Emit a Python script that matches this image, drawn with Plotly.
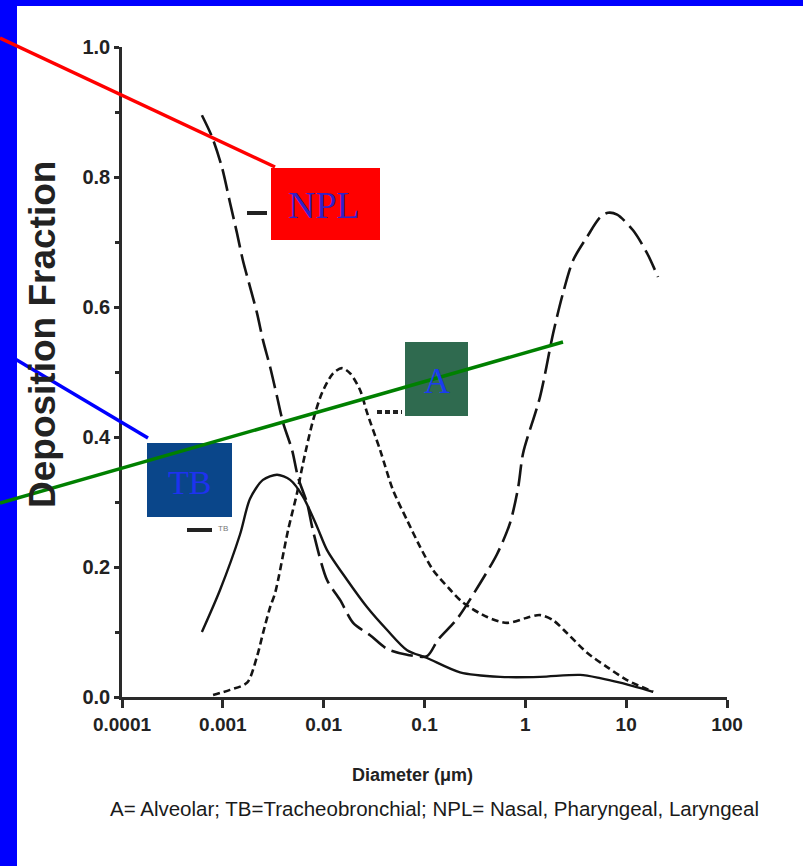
import plotly.graph_objects as go

# ---- data ----
npl_diam = [0.00062, 0.00078, 0.00098, 0.00118, 0.00138, 0.00158, 0.00186, 0.00218, 0.0025,
            0.00294, 0.00345, 0.00396, 0.00486, 0.00557, 0.00685, 0.00786, 0.0108, 0.0146,
            0.0196, 0.0289, 0.0426, 0.0672, 0.106, 0.136, 0.21, 0.356, 0.525, 0.706, 0.85,
            0.95, 1.40, 1.89, 2.37, 2.98, 4.10, 5.52, 6.63, 8.14, 11.7, 16.1, 20.7]
npl_frac = [0.895, 0.862, 0.815, 0.760, 0.714, 0.672, 0.631, 0.591, 0.549,
            0.508, 0.462, 0.422, 0.380, 0.338, 0.298, 0.255, 0.180, 0.149,
            0.114, 0.095, 0.074, 0.065, 0.063, 0.088, 0.120, 0.175, 0.220, 0.268, 0.323,
            0.375, 0.462, 0.560, 0.622, 0.672, 0.708, 0.738, 0.745, 0.742, 0.718, 0.683, 0.646]

tb_diam = [0.00062, 0.00094, 0.00148, 0.00186, 0.0025, 0.00345, 0.00465, 0.00625, 0.0086,
           0.0108, 0.0171, 0.027, 0.0426, 0.0672, 0.106, 0.225, 0.562, 1.40, 3.50, 5.52,
           8.71, 18.5]
tb_frac = [0.100, 0.165, 0.250, 0.305, 0.334, 0.342, 0.334, 0.308, 0.262,
           0.226, 0.180, 0.138, 0.103, 0.072, 0.060, 0.038, 0.031, 0.031, 0.034, 0.029,
           0.022, 0.008]

a_diam = [0.0008, 0.00118, 0.00174, 0.00218, 0.0025, 0.00294, 0.0033, 0.00444, 0.00545,
          0.00625, 0.00786, 0.00964, 0.0124, 0.0152, 0.0183, 0.023, 0.027, 0.0363, 0.0488,
          0.0672, 0.0904, 0.122, 0.18, 0.242, 0.418, 0.66, 1.04, 1.40, 1.89, 2.60, 4.10,
          6.48, 10.2, 18.5]
a_frac = [0.003, 0.011, 0.022, 0.062, 0.098, 0.138, 0.160, 0.257, 0.314,
          0.360, 0.426, 0.468, 0.498, 0.506, 0.498, 0.472, 0.437, 0.380, 0.318,
          0.272, 0.231, 0.195, 0.165, 0.145, 0.123, 0.114, 0.122, 0.126, 0.118, 0.098, 0.068,
          0.046, 0.026, 0.008]

x_tickvals = [0.0001, 0.001, 0.01, 0.1, 1, 10, 100]
x_ticktext = ["0.0001", "0.001", "0.01", "0.1", "1", "10", "100"]
y_tickvals = [0.0, 0.2, 0.4, 0.6, 0.8, 1.0]
y_ticktext = ["0.0", "0.2", "0.4", "0.6", "0.8", "1.0"]

# ---- layout geometry ----
W, H = 803, 866
L, R, T, B = 122, 76, 47, 169
PW = W - L - R
PH = H - T - B


def px(x):
    return (x - L) / PW


def py(y):
    return (H - B - y) / PH


fig = go.Figure()
line_col = "#141414"
fig.add_trace(go.Scatter(x=npl_diam, y=npl_frac, mode="lines", name="NPL",
                         line=dict(color=line_col, width=2.6, dash="22px,7px", shape="spline", smoothing=0.8)))
fig.add_trace(go.Scatter(x=tb_diam, y=tb_frac, mode="lines", name="TB",
                         line=dict(color=line_col, width=2.4, shape="spline", smoothing=0.8)))
fig.add_trace(go.Scatter(x=a_diam, y=a_frac, mode="lines", name="A",
                         line=dict(color=line_col, width=2.6, dash="7px,4px", shape="spline", smoothing=0.8)))

shapes = []
# blue frame
shapes.append(dict(type="rect", xref="paper", yref="paper", x0=px(0), x1=px(17), y0=py(H), y1=py(0),
                   fillcolor="#0000FF", line=dict(width=0), layer="above"))
shapes.append(dict(type="rect", xref="paper", yref="paper", x0=px(0), x1=px(W), y0=py(6), y1=py(0),
                   fillcolor="#0000FF", line=dict(width=0), layer="above"))
# legend keys
shapes.append(dict(type="line", xref="paper", yref="paper", x0=px(247), x1=px(267), y0=py(213), y1=py(213),
                   line=dict(color="#222", width=4)))
shapes.append(dict(type="line", xref="paper", yref="paper", x0=px(377), x1=px(402), y0=py(412), y1=py(412),
                   line=dict(color="#222", width=4, dash="5px,3px")))
shapes.append(dict(type="line", xref="paper", yref="paper", x0=px(187), x1=px(212), y0=py(530), y1=py(530),
                   line=dict(color="#222", width=4)))
# boxes
shapes.append(dict(type="rect", xref="paper", yref="paper", x0=px(271), x1=px(380), y0=py(240), y1=py(168),
                   fillcolor="#FF0000", line=dict(width=0), layer="above"))
shapes.append(dict(type="rect", xref="paper", yref="paper", x0=px(405), x1=px(468), y0=py(416), y1=py(342),
                   fillcolor="#2F6A4F", line=dict(width=0), layer="above"))
shapes.append(dict(type="rect", xref="paper", yref="paper", x0=px(147), x1=px(232), y0=py(517), y1=py(443),
                   fillcolor="#0A468A", line=dict(width=0), layer="above"))
# pointer lines
shapes.append(dict(type="line", xref="paper", yref="paper", x0=px(0), y0=py(38), x1=px(275), y1=py(167),
                   line=dict(color="#FF0000", width=3.5), layer="above"))
shapes.append(dict(type="line", xref="paper", yref="paper", x0=px(0), y0=py(350), x1=px(148), y1=py(438),
                   line=dict(color="#0000FF", width=3.5), layer="above"))
shapes.append(dict(type="line", xref="paper", yref="paper", x0=px(0), y0=py(503), x1=px(563), y1=py(342),
                   line=dict(color="#008000", width=3.5), layer="above"))


def label(text, x, y, size, color, family="Liberation Sans", weight="normal", angle=0):
    return dict(text=text, x=px(x), y=py(y), xref="paper", yref="paper", showarrow=False,
                xanchor="center", yanchor="middle", textangle=angle,
                font=dict(family=family, size=size, color=color, weight=weight))


annotations = [
    label("NPL", 324, 205, 38, "#3320C8", family="Liberation Serif"),
    label("A", 437, 381, 36, "#1A3CF0", family="Liberation Serif"),
    label("TB", 189, 482, 34, "#1E32F0", family="Liberation Serif"),
    label("TB", 223, 528, 8, "#777"),
    label("Deposition Fraction", 42, 335, 37, "#222", weight="bold", angle=-90),
    label("Diameter (μm)", 412, 775, 18, "#222", weight="bold"),
    label("A= Alveolar; TB=Tracheobronchial; NPL= Nasal, Pharyngeal, Laryngeal", 434, 808, 20.5, "#1a1a1a"),
]

axis_col = "#2a2a2a"
fig.update_layout(
    width=W, height=H,
    margin=dict(l=L, r=R, t=T, b=B, pad=0),
    paper_bgcolor="white", plot_bgcolor="white",
    showlegend=False,
    shapes=shapes,
    annotations=annotations,
    xaxis=dict(type="log", range=[-4, 2], tickvals=x_tickvals, ticktext=x_ticktext,
               showgrid=False, zeroline=False, showline=True, linecolor=axis_col, linewidth=2.5,
               ticks="outside", ticklen=8, tickwidth=2.5, tickcolor=axis_col,
               tickfont=dict(family="Liberation Sans", size=19, color="#222", weight="bold")),
    yaxis=dict(range=[0, 1], tickvals=y_tickvals, ticktext=y_ticktext,
               showgrid=False, zeroline=False, showline=True, linecolor=axis_col, linewidth=2.5,
               ticks="outside", ticklen=5, tickwidth=2.5, tickcolor=axis_col,
               minor=dict(dtick=0.1, tick0=0, ticks="outside", ticklen=4, tickwidth=2.5, tickcolor=axis_col),
               tickfont=dict(family="Liberation Sans", size=20, color="#222", weight="bold")),
)

fig.write_html("out.html", config={"displayModeBar": False},
               post_script="document.body.style.margin='0px';document.body.style.overflow='hidden';")
